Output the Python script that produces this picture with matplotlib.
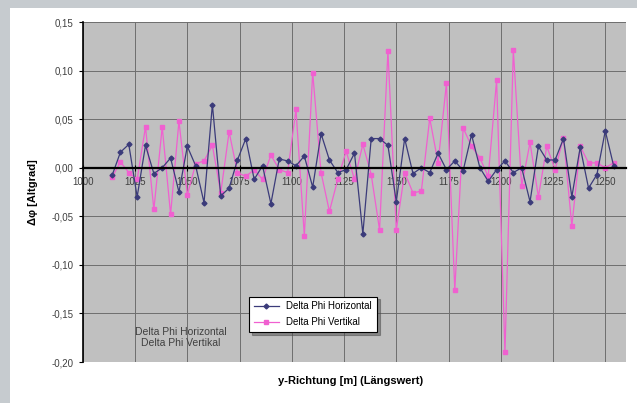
import matplotlib
matplotlib.use("Agg")
import matplotlib.pyplot as plt
from matplotlib.patches import Rectangle
from matplotlib.ticker import FuncFormatter

plt.rcParams['font.family'] = ['Liberation Sans', 'DejaVu Sans']

# station along the track, every 4 m
station = [1014 + 4 * k for k in range(61)]

delta_phi_horizontal = [
    -0.008, 0.016, 0.024, -0.030, 0.023, -0.006, 0.000, 0.010, -0.025, 0.022,
    0.002, -0.036, 0.065, -0.029, -0.021, 0.008, 0.030, -0.012, 0.002, -0.037,
    0.009, 0.007, 0.002, 0.012, -0.020, 0.035, 0.008, -0.005, -0.002, 0.015,
    -0.068, 0.030, 0.030, 0.023, -0.035, 0.030, -0.006, 0.000, -0.005, 0.015,
    -0.002, 0.007, -0.003, 0.034, 0.000, -0.014, -0.002, 0.007, -0.005, 0.000,
    -0.035, 0.022, 0.008, 0.008, 0.030, -0.030, 0.021, -0.021, -0.007, 0.038,
    0.002,
]

delta_phi_vertikal = [
    -0.010, 0.006, -0.005, -0.012, 0.042, -0.043, 0.042, -0.048, 0.048, -0.028,
    0.004, 0.007, 0.023, -0.026, 0.037, -0.005, -0.009, -0.002, -0.012, 0.013,
    -0.002, -0.005, 0.060, -0.070, 0.098, -0.005, -0.045, -0.012, 0.017, -0.012,
    0.024, -0.007, -0.064, 0.120, -0.064, -0.005, -0.026, -0.024, 0.051, 0.005,
    0.087, -0.126, 0.041, 0.022, 0.010, -0.009, 0.090, -0.190, 0.121, -0.019,
    0.026, -0.030, 0.022, -0.002, 0.031, -0.060, 0.022, 0.005, 0.005, 0.000,
    0.005,
]

x_ticks = [1000, 1025, 1050, 1075, 1100, 1125, 1150, 1175, 1200, 1225, 1250]
y_ticks = [-0.20, -0.15, -0.10, -0.05, 0.00, 0.05, 0.10, 0.15]

fig = plt.figure(figsize=(6.37, 4.03), dpi=100, facecolor='white')

# grey frame around the white panel (top and left)
fig.patches.append(Rectangle((0, 1 - 8 / 403), 1, 8 / 403, transform=fig.transFigure,
                             facecolor='#c6cbcf', edgecolor='none', zorder=0))
fig.patches.append(Rectangle((0, 0), 10 / 637, 1, transform=fig.transFigure,
                             facecolor='#c6cbcf', edgecolor='none', zorder=0))

ax = fig.add_axes([0.130, 0.1017, 0.853, 0.8437])
ax.set_facecolor('#c0c0c0')

ax.plot(station, delta_phi_horizontal, color='#3b3b7a', linewidth=0.9,
        marker='D', markersize=2.5, label='Delta Phi Horizontal', zorder=3)
ax.plot(station, delta_phi_vertikal, color='#f060d0', linewidth=0.9,
        marker='s', markersize=3, label='Delta Phi Vertikal', zorder=2)

ax.set_xlim(1000, 1260)
ax.set_ylim(-0.20, 0.15)
ax.set_xticks(x_ticks)
ax.set_yticks(y_ticks)
ax.yaxis.set_major_formatter(FuncFormatter(lambda v, p: f"{v:.2f}".replace('.', ',')))
ax.grid(True, color='#6e6e6e', linewidth=0.7)
ax.set_axisbelow(True)

for s in ['top', 'right']:
    ax.spines[s].set_visible(False)
ax.spines['left'].set_linewidth(1.2)
ax.spines['bottom'].set_position(('data', 0))
ax.spines['bottom'].set_linewidth(1.6)
ax.spines['bottom'].set_zorder(4)

ax.tick_params(axis='both', labelsize=7, colors='black', labelcolor='#404040', length=3)
ax.tick_params(axis='x', direction='inout', length=5, pad=4)

ax.set_ylabel('Δφ [Altgrad]', fontsize=8, fontweight='bold', labelpad=10)
fig.text(0.55, 0.055, 'y-Richtung [m] (Längswert)', fontsize=8, fontweight='bold',
         ha='center', va='center')

ax.text(1047, -0.175, 'Delta Phi Horizontal\nDelta Phi Vertikal', fontsize=7.5,
        color='#404040', ha='center', va='center', linespacing=1.1)

leg = ax.legend(loc='center', bbox_to_anchor=(0.424, 0.14), fontsize=7,
                frameon=True, fancybox=False, shadow=True, edgecolor='black',
                handlelength=2.5, borderpad=0.5, labelspacing=0.6)
leg.get_frame().set_linewidth(0.8)

fig.savefig('out.png', dpi=100, facecolor=fig.get_facecolor())
